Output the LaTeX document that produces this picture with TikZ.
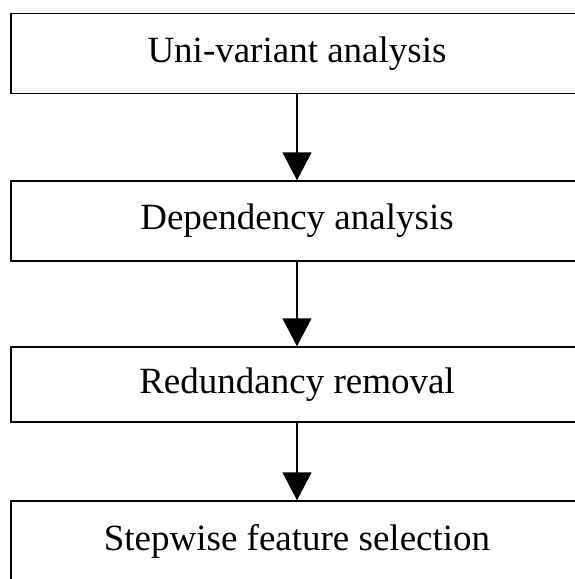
\documentclass[tikz,border=0pt]{standalone}
\usepackage{fontspec}
\setmainfont{Liberation Serif}
\usetikzlibrary{arrows.meta}
\begin{document}
\begin{tikzpicture}[x=1pt,y=-1pt,
  stepbox/.style={draw=black, line width=1.5pt, minimum width=572pt, inner sep=0pt,
    font=\fontsize{37}{40}\selectfont, text=black},
  flowarrow/.style={line width=1.5pt, -{Triangle[width=29pt,length=28pt]}}]
\useasboundingbox (0,0) rectangle (575,579);
\clip (0,0) rectangle (575,579);
\node[stepbox, minimum height=80pt] (b1) at (297,53.5) {Uni-variant analysis};
\node[stepbox, minimum height=80pt] (b2) at (297,221) {Dependency analysis};
\node[stepbox, minimum height=75pt] (b3) at (297,384.5) {Redundancy removal};
\node[stepbox, minimum height=80pt] (b4) at (297,541) {Stepwise feature selection};
\draw[flowarrow] (b1.south) -- (b2.north);
\draw[flowarrow] (b2.south) -- (b3.north);
\draw[flowarrow] (b3.south) -- (b4.north);
\end{tikzpicture}
\end{document}
